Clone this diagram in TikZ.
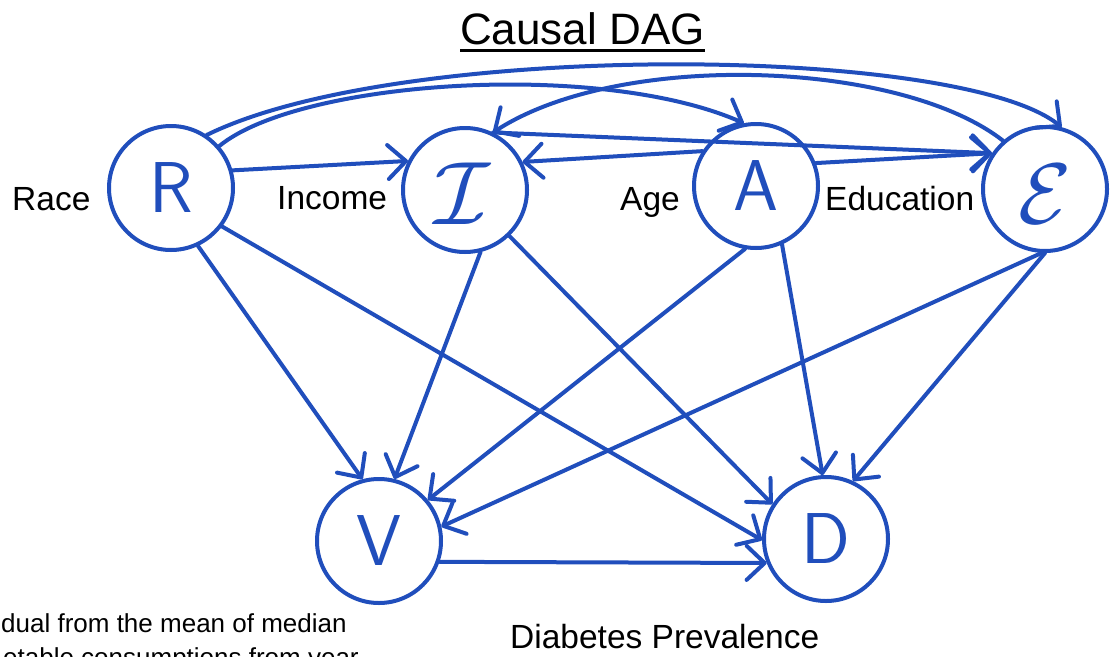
\documentclass[tikz,border=0pt]{standalone}
\usepackage{fontspec}
\setmainfont{Liberation Sans}
\usetikzlibrary{arrows.meta}
\definecolor{dagblue}{RGB}{32,78,188}
\begin{document}
\begin{tikzpicture}[x=1pt,y=-1pt,
  vnode/.style={circle, draw=dagblue, line width=4pt, minimum size=124pt, inner sep=0pt, text=dagblue, font=\fontsize{72}{72}\sffamily},
  letter/.style={inner sep=0pt, text=dagblue},
  lbl/.style={font=\fontsize{33.5}{36}\selectfont, anchor=base west, inner sep=0pt},
  note/.style={font=\fontsize{26}{28}\selectfont, anchor=base west, inner sep=0pt},
  arr/.style={draw=dagblue, line width=4pt, line cap=round, -{Straight Barb[length=18pt,width=34pt,round]}}]
\clip (0,0) rectangle (1111,656);
\fill[white] (0,0) rectangle (1111,656);
% title
\node[font=\fontsize{44}{48}\selectfont, anchor=base west, inner sep=0pt] (title) at (460,44) {Causal DAG};
\draw[line width=3pt] ([yshift=-6pt]title.base west) -- ([yshift=-6pt]title.base east);
% nodes
\node[vnode] (R) at (171,188) {R};
\node[vnode] (I) at (465,190) {};
\node[letter] (Iletter) at (462,194) {\scalebox{9}{$\mathcal{I}$}};
\node[vnode] (A) at (756,186) {A};
\node[vnode] (E) at (1045,189) {};
\node[letter] (Eletter) at (1045,194) {\scalebox{8.6}{$\mathcal{E}$}};
\node[vnode] (V) at (379,541) {V};
\node[vnode] (D) at (826,539) {D};
% labels
\node[lbl] (race) at (12,210) {Race};
\node[lbl] (income) at (277,209) {Income};
\node[lbl] (age) at (620,210) {Age};
\node[lbl] (edu) at (825,210) {Education};
\node[lbl] (diab) at (510,648) {Diabetes Prevalence};
\node[note] (note1) at (1,632) {dual from the mean of median};
\node[note] (note2) at (3,666) {etable consumptions from year};
% edges
\draw[arr] (R.16) -- (I.153);
\draw[arr] (R.41) .. controls (300,80) and (600,60) .. (A.101);
\draw[arr] (R.56) .. controls (400,40) and (960,45) .. (E.75);
\draw[arr] (E.131) .. controls (900,60) and (620,50) .. (I.64);
\draw[arr] (I.64) -- (E.146);
\draw[arr] (A.147) -- (I.26);
\draw[arr] (A.21) -- (E.146);
\draw[arr] (R.-65) -- (V.105);
\draw[arr] (R.-37) -- (D.181);
\draw[arr] (I.-76) -- (V.76);
\draw[arr] (I.-46) -- (D.147);
\draw[arr] (A.260) -- (V.40);
\draw[arr] (A.-66) -- (D.93);
\draw[arr] (E.-93) -- (V.13);
\draw[arr] (E.-90) -- (D.65);
\draw[arr] (V.-19) -- (D.202);
\end{tikzpicture}
\end{document}
